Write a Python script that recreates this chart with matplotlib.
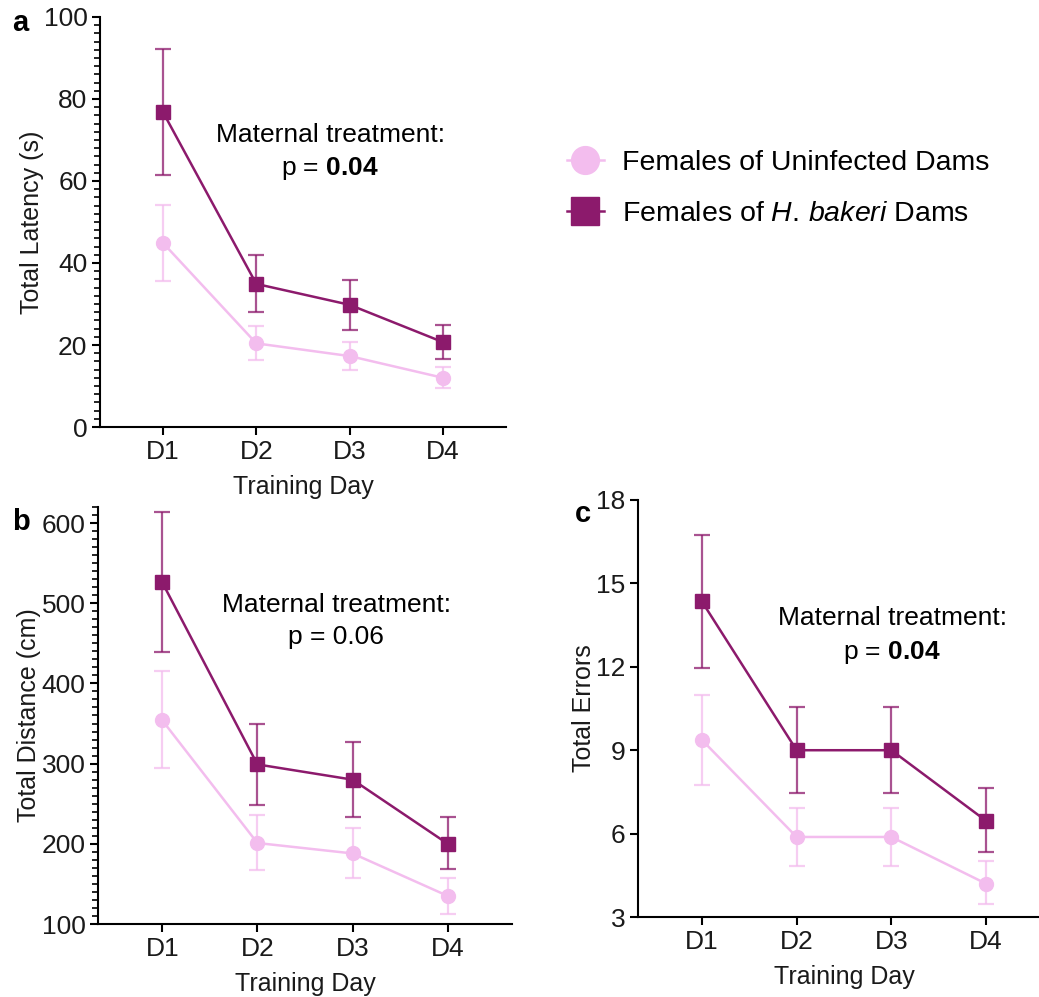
import matplotlib
matplotlib.use("Agg")
import matplotlib.pyplot as plt
from matplotlib.ticker import MultipleLocator

plt.rcParams["font.family"] = ["Liberation Sans", "DejaVu Sans"]
plt.rcParams["mathtext.fontset"] = "custom"
plt.rcParams["mathtext.rm"] = "Liberation Sans"
plt.rcParams["mathtext.bf"] = "Liberation Sans:bold"
plt.rcParams["mathtext.it"] = "Liberation Sans:italic"

days = ["D1", "D2", "D3", "D4"]

# panel a - total latency (s)
lat_uninf = [44.9, 20.4, 17.3, 12.0]
lat_uninf_hi = [54.2, 24.7, 20.8, 14.7]
lat_uninf_lo = [35.7, 16.3, 13.8, 9.6]
lat_hb = [76.8, 34.9, 29.8, 20.7]
lat_hb_hi = [92.2, 42.0, 35.8, 24.9]
lat_hb_lo = [61.5, 28.0, 23.7, 16.7]

# panel b - total distance (cm)
dist_uninf = [354, 201, 188, 135]
dist_uninf_hi = [415, 236, 220, 158]
dist_uninf_lo = [294, 167, 157, 112]
dist_hb = [526, 299, 280, 200]
dist_hb_hi = [614, 349, 327, 233]
dist_hb_lo = [439, 249, 234, 168]

# panel c - total errors
err_uninf = [9.37, 5.88, 5.88, 4.20]
err_uninf_hi = [10.98, 6.91, 6.91, 5.02]
err_uninf_lo = [7.76, 4.82, 4.82, 3.46]
err_hb = [14.35, 9.0, 9.0, 6.46]
err_hb_hi = [16.74, 10.54, 10.54, 7.64]
err_hb_lo = [11.95, 7.46, 7.46, 5.34]

light = "#f3bdee"
dark = "#8c1a6c"


def draw_series(ax, y, hi, lo, color, marker, label):
    x = range(1, len(days) + 1)
    yerr = [[m - l for m, l in zip(y, lo)], [h - m for m, h in zip(y, hi)]]
    ax.errorbar(x, y, yerr=yerr, fmt="none", ecolor=color, elinewidth=1.6,
                capsize=6, capthick=1.6, alpha=0.75, zorder=2)
    ax.plot(x, y, color=color, lw=1.8, marker=marker, markersize=10,
            label=label, zorder=3)


def style_axes(ax, ylim, major, minor, ylabel):
    ax.set_xlim(0.325, 4.675)
    ax.set_ylim(*ylim)
    ax.set_xticks(range(1, 5))
    ax.set_xticklabels(days)
    ax.yaxis.set_major_locator(MultipleLocator(major))
    if minor:
        ax.yaxis.set_minor_locator(MultipleLocator(minor))
    ax.spines["top"].set_visible(False)
    ax.spines["right"].set_visible(False)
    for s in ["left", "bottom"]:
        ax.spines[s].set_linewidth(1.5)
    ax.tick_params(axis="both", which="major", labelsize=19, width=1.5, length=6,
                   pad=3, labelcolor="#1a1a1a")
    ax.tick_params(axis="y", which="minor", width=1.2, length=4)
    ax.set_xlabel("Training Day", fontsize=18, labelpad=8, color="#1a1a1a")
    ax.set_ylabel(ylabel, fontsize=18, labelpad=0, color="#1a1a1a")


fig = plt.figure(figsize=(10.39, 9.97), dpi=100)

ax_a = fig.add_axes([0.0962, 0.5717, 0.3908, 0.4113])
draw_series(ax_a, lat_uninf, lat_uninf_hi, lat_uninf_lo, light, "o",
            "Females of Uninfected Dams")
draw_series(ax_a, lat_hb, lat_hb_hi, lat_hb_lo, dark, "s",
            r"Females of $\mathit{H.}\,\mathit{bakeri}$ Dams")
style_axes(ax_a, (0, 100), 20, 2, "Total Latency (s)")
ax_a.text(2.79, 71.1, "Maternal treatment:", fontsize=19, ha="center", va="center")
ax_a.text(2.79, 63.1, r"p = $\mathbf{0.04}$", fontsize=19, ha="center", va="center")

ax_b = fig.add_axes([0.0943, 0.0732, 0.3985, 0.4183])
draw_series(ax_b, dist_uninf, dist_uninf_hi, dist_uninf_lo, light, "o", None)
draw_series(ax_b, dist_hb, dist_hb_hi, dist_hb_lo, dark, "s", None)
style_axes(ax_b, (100, 620), 100, 10, "Total Distance (cm)")
ax_b.text(2.83, 498, "Maternal treatment:", fontsize=19, ha="center", va="center")
ax_b.text(2.83, 458, "p = 0.06", fontsize=19, ha="center", va="center")

ax_c = fig.add_axes([0.614, 0.0802, 0.3966, 0.4183])
draw_series(ax_c, err_uninf, err_uninf_hi, err_uninf_lo, light, "o", None)
draw_series(ax_c, err_hb, err_hb_hi, err_hb_lo, dark, "s", None)
style_axes(ax_c, (3, 18), 3, None, "Total Errors")
ax_c.text(3.01, 13.74, "Maternal treatment:", fontsize=19, ha="center", va="center")
ax_c.text(3.01, 12.52, r"p = $\mathbf{0.04}$", fontsize=19, ha="center", va="center")

fig.text(0.012, 0.977, "a", fontsize=21, fontweight="bold", va="center")
fig.text(0.012, 0.476, "b", fontsize=21, fontweight="bold", va="center")
fig.text(0.553, 0.484, "c", fontsize=21, fontweight="bold", va="center")

handles, labels = ax_a.get_legend_handles_labels()
fig.legend(handles, labels, loc="center left", bbox_to_anchor=(0.521, 0.811),
           frameon=False, fontsize=20.5, markerscale=2.0, handlelength=1.3,
           handletextpad=0.65, labelspacing=0.85)

fig.savefig("out.png", dpi=100)
